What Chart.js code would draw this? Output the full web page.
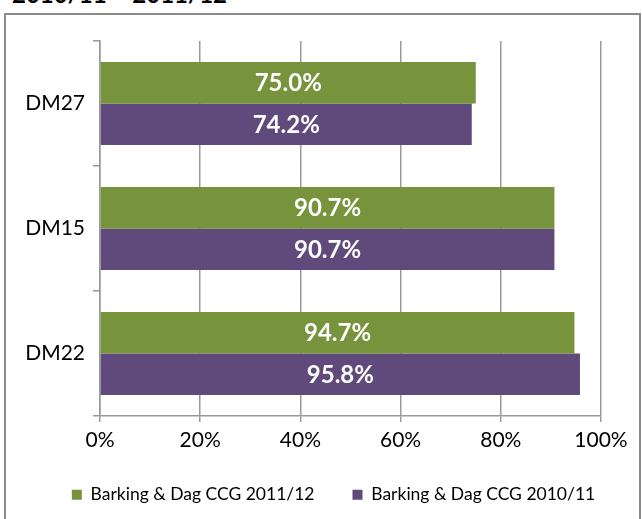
<!DOCTYPE html>
<html>
<head>
<meta charset="utf-8">
<script src="https://cdn.jsdelivr.net/npm/chart.js@4"></script>
<style>
  html, body { margin: 0; padding: 0; background: #fff; overflow: hidden; }
  #title { position: absolute; left: 12px; top: -21px; font: bold 24px Lato, sans-serif; color: #000; white-space: nowrap; }
  #box { position: absolute; left: 4px; top: 13px; width: 633px; height: 540px; border: 2px solid #8c8c8c; }
  #wrap { position: absolute; left: 0; top: 0; width: 642px; height: 519px; }
</style>
</head>
<body>
<div id="title">2010/11 – 2011/12</div>
<div id="box"></div>
<div id="wrap"><canvas id="c"></canvas></div>
<script>
const categories = ["DM27", "DM15", "DM22"];
const seriesNames = ["Barking & Dag CCG 2011/12", "Barking & Dag CCG 2010/11"];
const values2011 = [75.0, 90.7, 94.7];
const values2010 = [74.2, 90.7, 95.8];
const xTicks = [0, 20, 40, 60, 80, 100];

const green = "#77933C";
const purple = "#604A7B";
const gridGray = "#999999";

// white value labels in the middle of each bar
const barLabels = {
  id: "barLabels",
  afterDatasetsDraw(chart) {
    const ctx = chart.ctx;
    ctx.save();
    ctx.fillStyle = "#fff";
    ctx.font = "bold 24px Lato, sans-serif";
    ctx.textAlign = "center";
    ctx.textBaseline = "middle";
    chart.data.datasets.forEach((ds, i) => {
      chart.getDatasetMeta(i).data.forEach((bar, j) => {
        const x = (bar.x + bar.base) / 2;
        ctx.fillText(ds.data[j].toFixed(1) + "%", x, bar.y + 1);
      });
    });
    ctx.restore();
  }
};

new Chart(document.getElementById("c"), {
  type: "bar",
  data: {
    labels: categories,
    datasets: [
      { label: seriesNames[0], data: values2011, backgroundColor: green },
      { label: seriesNames[1], data: values2010, backgroundColor: purple }
    ]
  },
  options: {
    indexAxis: "y",
    responsive: true,
    maintainAspectRatio: false,
    animation: false,
    datasets: { bar: { categoryPercentage: 0.664, barPercentage: 1 } },
    layout: { padding: { top: 41, right: 0, left: 25, bottom: 5.5 } },
    scales: {
      x: {
        min: 0,
        max: 100,
        afterBuildTicks: (s) => { s.ticks = xTicks.map(v => ({ value: v })); },
        afterFit: (s) => { s.height = 32; },
        grid: { color: gridGray, lineWidth: 1.5, tickLength: 6 },
        border: { color: gridGray, width: 1.5 },
        ticks: {
          callback: (v) => v + "%",
          color: "#000",
          padding: 6,
          font: { family: "Lato", size: 21 }
        }
      },
      y: {
        afterFit: (s) => { s.width = 75; },
        grid: { drawOnChartArea: false, color: gridGray, lineWidth: 1.5, tickLength: 7 },
        border: { color: gridGray, width: 1.5 },
        ticks: { color: "#000", padding: 8, font: { family: "Lato", size: 21 } }
      },
      // empty spacer on the right so the plot ends where the reference does
      spacer: {
        type: "linear",
        position: "right",
        afterFit: (s) => { s.width = 41; },
        grid: { display: false },
        border: { display: false },
        ticks: { display: false }
      }
    },
    plugins: {
      legend: {
        position: "bottom",
        labels: {
          boxWidth: 10,
          boxHeight: 10,
          padding: 38,
          color: "#000",
          font: { family: "Lato", size: 17.5 }
        }
      },
      tooltip: { enabled: false }
    }
  },
  plugins: [barLabels]
});
</script>
</body>
</html>
